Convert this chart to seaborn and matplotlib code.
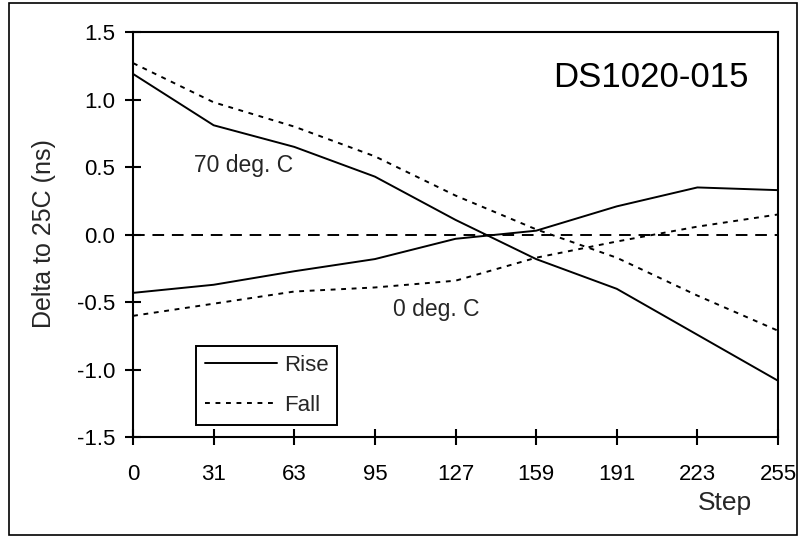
import numpy as np
import pandas as pd
import matplotlib.pyplot as plt
import seaborn as sns
from matplotlib.lines import Line2D
from matplotlib.patches import Rectangle

# values
steps = ['0', '31', '63', '95', '127', '159', '191', '223', '255']
rise_70 = [1.19, 0.81, 0.65, 0.43, 0.11, -0.18, -0.40, -0.74, -1.08]
fall_70 = [1.27, 0.98, 0.80, 0.58, 0.29, 0.04, -0.17, -0.45, -0.71]
rise_0 = [-0.43, -0.37, -0.27, -0.18, -0.03, 0.03, 0.21, 0.35, 0.33]
fall_0 = [-0.60, -0.51, -0.42, -0.39, -0.34, -0.17, -0.05, 0.06, 0.15]
y_ticks = [-1.5, -1.0, -0.5, 0.0, 0.5, 1.0, 1.5]

pos = np.arange(len(steps))
df = pd.DataFrame({
    'pos': np.tile(pos, 4),
    'delta': rise_70 + fall_70 + rise_0 + fall_0,
    'edge': ['Rise'] * 9 + ['Fall'] * 9 + ['Rise'] * 9 + ['Fall'] * 9,
    'temp': ['70'] * 18 + ['0'] * 18,
})

sns.set_theme(style='white')
plt.rcParams['font.family'] = ['Liberation Sans', 'DejaVu Sans']

fig = plt.figure(figsize=(7.99, 5.37), dpi=100)
ax = fig.add_axes([0.1665, 0.1853, 0.8072, 0.7551])

solid = '-'
dotted = (0, (2.5, 2.9))
for (temp, edge), grp in df.groupby(['temp', 'edge']):
    sns.lineplot(data=grp, x='pos', y='delta', ax=ax, color='black',
                 linewidth=1.4, linestyle=solid if edge == 'Rise' else dotted,
                 legend=False)

ax.axhline(0, color='black', linewidth=1.4, linestyle=(0, (6, 4)))

ax.set_xlim(0, 8)
ax.set_ylim(-1.5, 1.5)
ax.set_xticks(pos)
ax.set_xticklabels(steps)
ax.set_yticks(y_ticks)
ax.set_yticklabels([f'{v:.1f}' for v in y_ticks])
ax.set_xlabel('')
ax.set_ylabel('')
ax.tick_params(axis='both', direction='inout', length=11.5, width=1.5,
               colors='black', labelsize=16, bottom=True, left=True)
ax.tick_params(axis='x', pad=13)
ax.tick_params(axis='y', pad=7)
for sp in ax.spines.values():
    sp.set_color('black')
    sp.set_linewidth(1.5)

ax.text(0.803, 0.889, 'DS1020-015', transform=ax.transAxes, fontsize=25,
        ha='center', va='center', color='black')
ax.text(1.365, 0.516, '70 deg. C', fontsize=16.5, ha='center', va='center')
ax.text(3.76, -0.55, '0 deg. C', fontsize=16.5, ha='center', va='center')

fig.text(44 / 799, 1 - 234 / 537, 'Delta to 25C (ns)', rotation=90,
         fontsize=18, ha='center', va='center')
fig.text(725 / 799, 1 - 503 / 537, 'Step', fontsize=19, ha='center',
         va='center')

handles = [Line2D([], [], color='black', linewidth=1.4, linestyle=solid),
           Line2D([], [], color='black', linewidth=1.4, linestyle=dotted)]
leg = ax.legend(handles, ['Rise', 'Fall'], loc='lower left',
                bbox_to_anchor=(0.0977, 0.031), fontsize=16, handlelength=3.25,
                handletextpad=0.3, labelspacing=0.85, borderpad=0.4,
                borderaxespad=0, fancybox=False, framealpha=1,
                edgecolor='black')
leg.get_frame().set_linewidth(1.4)

fig.patches.append(Rectangle((9 / 799, 1 - 535 / 537), 788 / 799, 532 / 537,
                             transform=fig.transFigure, fill=False,
                             edgecolor='black', linewidth=1.2))

fig.savefig('out.png', dpi=100, facecolor='white')
